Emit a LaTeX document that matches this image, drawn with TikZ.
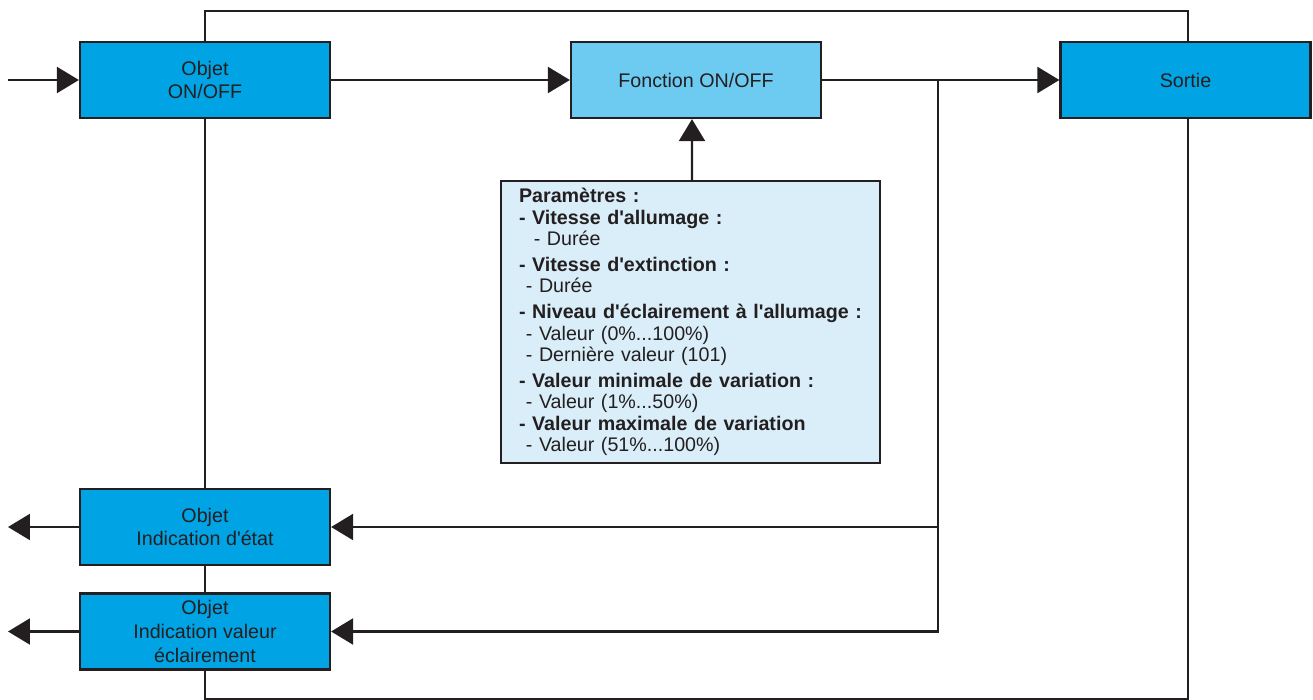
\documentclass[tikz,border=0pt]{standalone}
\usepackage{fontspec}
\setmainfont{Liberation Sans}[Ligatures=TeXOff]
\usetikzlibrary{arrows.meta}
\definecolor{inkline}{HTML}{231F20}
\definecolor{objblue}{HTML}{00A3E4}
\definecolor{fctblue}{HTML}{6DCBF2}
\definecolor{parblue}{HTML}{D9EEF9}
\tikzset{
  objbox/.style={draw=inkline,line width=1.3pt,fill=objblue,minimum width=5cm,minimum height=1.52cm,
    align=center,text=inkline,font=\fontsize{11.2}{13.6}\selectfont},
  fctbox/.style={objbox,fill=fctblue},
  parbox/.style={draw=inkline,line width=1.3pt,fill=parblue,minimum width=7.58cm,minimum height=5.64cm,
    align=left,text=inkline,font=\fontsize{11.2}{12.2}\selectfont,text width=6.86cm,inner xsep=0.36cm},
  flow/.style={inkline,line width=1.3pt,-{Triangle[length=0.44cm,width=0.52cm]}},
  wire/.style={inkline,line width=1.3pt}
}
\begin{document}
\begin{tikzpicture}[x=0.02cm,y=-0.02cm]
  \useasboundingbox (0,0) rectangle (1313,700);
  % boxes
  \node (objonoff) at (205,80) [objbox] {Objet\\ON/OFF};
  \node (fonction) at (696,80) [fctbox] {Fonction ON/OFF};
  \node (sortie) at (1185.5,80) [objbox] {Sortie};
  \node (objetat) at (205,527) [objbox] {Objet\\Indication d'état};
  \node (objval) at (205,631.5) [objbox] {Objet\\Indication valeur\\éclairement};
  \node (param) at (690.5,322) [parbox] {%
    \textbf{Paramètres :}\\
    \textbf{- Vitesse d'allumage :}\\
    \hspace*{0.75em}- Durée\\[2.5pt]
    \textbf{- Vitesse d'extinction :}\\
    \hspace*{0.35em}- Durée\\[2.5pt]
    \textbf{- Niveau d'éclairement à l'allumage :}\\
    \hspace*{0.35em}- Valeur (0\%...100\%)\\
    \hspace*{0.35em}- Dernière valeur (101)\\[2.5pt]
    \textbf{- Valeur minimale de variation :}\\
    \hspace*{0.35em}- Valeur (1\%...50\%)\\
    \textbf{- Valeur maximale de variation}\\
    \hspace*{0.35em}- Valeur (51\%...100\%)};
  \coordinate (entree) at (8,80);
  \coordinate (split) at (938,80);
  \coordinate (sortieetat) at (8,527);
  \coordinate (sortieval) at (8,631.5);
  % loop round the boxes
  \draw[wire] (objonoff.north) -- ++(0,-30) -| ([xshift=0.05cm]sortie.north);
  \draw[wire] ([xshift=0.05cm]sortie.south) -- ++(0,580) -| (objval.south);
  \draw[wire] (objonoff.south) -- (objetat.north);
  \draw[wire] (objetat.south) -- (objval.north);
  % signal flow
  \draw[flow] (entree) -- (objonoff.west);
  \draw[flow] (objonoff.east) -- (fonction.west);
  \draw[flow] (fonction.east) -- (sortie.west);
  \draw[flow] (param.north -| fonction.south) ++(-4,0) -- ([xshift=-0.08cm]fonction.south);
  \draw[flow] (split) |- (objetat.east);
  \draw[flow] (split) |- (objval.east);
  \draw[flow] (objetat.west) -- (sortieetat);
  \draw[flow] (objval.west) -- (sortieval);
\end{tikzpicture}
\end{document}
